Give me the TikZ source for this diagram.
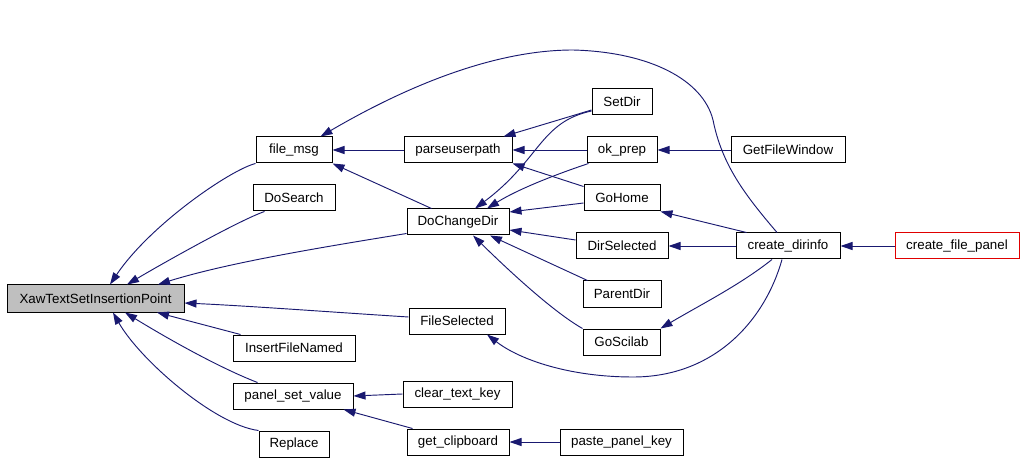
\documentclass[tikz,border=0pt]{standalone}
\usepackage{fontspec}
\setmainfont{Liberation Sans}
\usetikzlibrary{arrows.meta,calc}
\definecolor{edgec}{HTML}{191970}
\definecolor{redc}{HTML}{E00000}
\begin{document}
\begin{tikzpicture}[x=0.75pt,y=-0.75pt,
  bx/.style={draw=black, line width=0.75pt, inner sep=0pt, minimum height=19.5pt, fill=white,
    font=\fontsize{10pt}{12pt}\selectfont},
  edge/.style={draw=edgec, line width=0.7pt, -{Triangle[length=9pt,width=6pt]}, fill=none}]
\useasboundingbox[fill=white] (0,0) rectangle (1023,459);

% nodes
\node[bx, minimum width=132.75pt, minimum height=20.25pt, fill=black!25] (xaw) at (95.5,298.5) {XawTextSetInsertionPoint};
\node[bx, minimum width=57pt] (fmsg) at (294,150) {file\_msg};
\node[bx, minimum width=61.5pt] (dosearch) at (294,198) {DoSearch};
\node[bx, minimum width=91.5pt] (ifn) at (294,348) {InsertFileNamed};
\node[bx, minimum width=90pt] (psv) at (293,396) {panel\_set\_value};
\node[bx, minimum width=52.5pt] (replace) at (294,444) {Replace};
\node[bx, minimum width=81pt] (pup) at (458,150) {parseuserpath};
\node[bx, minimum width=76.5pt] (dcd) at (458,222) {DoChangeDir};
\node[bx, minimum width=72pt] (fsel) at (457,321) {FileSelected};
\node[bx, minimum width=81.75pt] (ctk) at (457.5,394) {clear\_text\_key};
\node[bx, minimum width=76.5pt] (gclip) at (458,442) {get\_clipboard};
\node[bx, minimum width=45pt] (setdir) at (622,102) {SetDir};
\node[bx, minimum width=52.5pt] (okprep) at (622,150) {ok\_prep};
\node[bx, minimum width=57pt] (gohome) at (622,198) {GoHome};
\node[bx, minimum width=69pt] (dirsel) at (622,246) {DirSelected};
\node[bx, minimum width=58.5pt] (pdir) at (622,294) {ParentDir};
\node[bx, minimum width=57.75pt] (gosci) at (621.5,342) {GoScilab};
\node[bx, minimum width=92.25pt] (ppk) at (621.5,442) {paste\_panel\_key};
\node[bx, minimum width=85.5pt] (gfw) at (788,150) {GetFileWindow};
\node[bx, minimum width=78pt] (cdi) at (788,246) {create\_dirinfo};
\node[bx, minimum width=93pt, draw=redc] (cfp) at (957,246) {create\_file\_panel};

% edges into XawTextSetInsertionPoint
\draw[edge] (fmsg.south west) .. controls (230,170) and (150,225) .. ($(xaw.north)+(14.5,0)$);
\draw[edge] ($(dosearch.south west)+(12,0)$) .. controls (240,220) and (165,262) .. ($(xaw.north)+(31.5,0)$);
\draw[edge] ($(dcd.south west)+(0,-2)$) .. controls (330,246) and (230,262) .. ($(xaw.north)+(62.5,0)$);
\draw[edge] ($(fsel.west)+(0,-4)$) .. controls (330,312) and (250,306) .. ($(xaw.east)+(0,4.5)$);
\draw[edge] ($(ifn.north west)+(8,0)$) -- ($(xaw.south)+(61.5,0)$);
\draw[edge] ($(psv.north west)+(25,0)$) .. controls (220,368) and (170,340) .. ($(xaw.south)+(29.5,0)$);
\draw[edge] (replace.north west) .. controls (215,425) and (140,360) .. ($(xaw.south)+(17.5,0)$);

% edges into file_msg
\draw[edge] (pup.west) -- (fmsg.east);
\draw[edge] ($(dcd.north west)+(25,0)$) -- (fmsg.south east);
\draw[edge] ($(cdi.north)+(-11,0)$) .. controls (745,195) and (722,165) .. (713,120)
  .. controls (703,80) and (650,52) .. (573,50)
  .. controls (490,50) and (400,90) .. ($(fmsg.north east)+(-12,0)$);

% edges into parseuserpath
\draw[edge] ($(setdir.west)+(0,8)$) -- ($(pup.north east)+(-9,0)$);
\draw[edge] (okprep.west) -- (pup.east);
\draw[edge] ($(gohome.north west)+(0,2)$) -- (pup.south east);

% edges into DoChangeDir
\draw[edge] ($(setdir.west)+(0,9)$) .. controls (540,122) and (540,160) .. ($(dcd.north)+(17,0)$);
\draw[edge] ($(okprep.south west)+(2,0)$) .. controls (560,173) and (520,188) .. ($(dcd.north)+(29,0)$);
\draw[edge] ($(gohome.west)+(0,5)$) -- ($(dcd.east)+(0,-10)$);
\draw[edge] ($(dirsel.west)+(0,-6)$) -- ($(dcd.east)+(0,8)$);
\draw[edge] ($(pdir.north west)+(5,0)$) -- ($(dcd.south)+(32,0)$);
\draw[edge] (gosci.north west) .. controls (550,310) and (500,262) .. ($(dcd.south)+(15,0)$);

% others
\draw[edge] (gfw.west) -- (okprep.east);
\draw[edge] ($(cdi.north west)+(11,0)$) -- (gohome.south east);
\draw[edge] (cdi.west) -- (dirsel.east);
\draw[edge] ($(cdi.south)+(-16,0)$) .. controls (740,285) and (700,305) .. (gosci.north east);
\draw[edge] ($(cdi.south)+(-6,0)$) .. controls (765,320) and (715,377) .. (633,377)
  .. controls (570,377) and (520,360) .. ($(fsel.south)+(30,0)$);
\draw[edge] (cfp.west) -- (cdi.east);
\draw[edge] (ctk.west) -- (psv.east);
\draw[edge] ($(gclip.north west)+(6,0)$) -- ($(psv.south east)+(-10,0)$);
\draw[edge] (ppk.west) -- (gclip.east);
\end{tikzpicture}
\end{document}
